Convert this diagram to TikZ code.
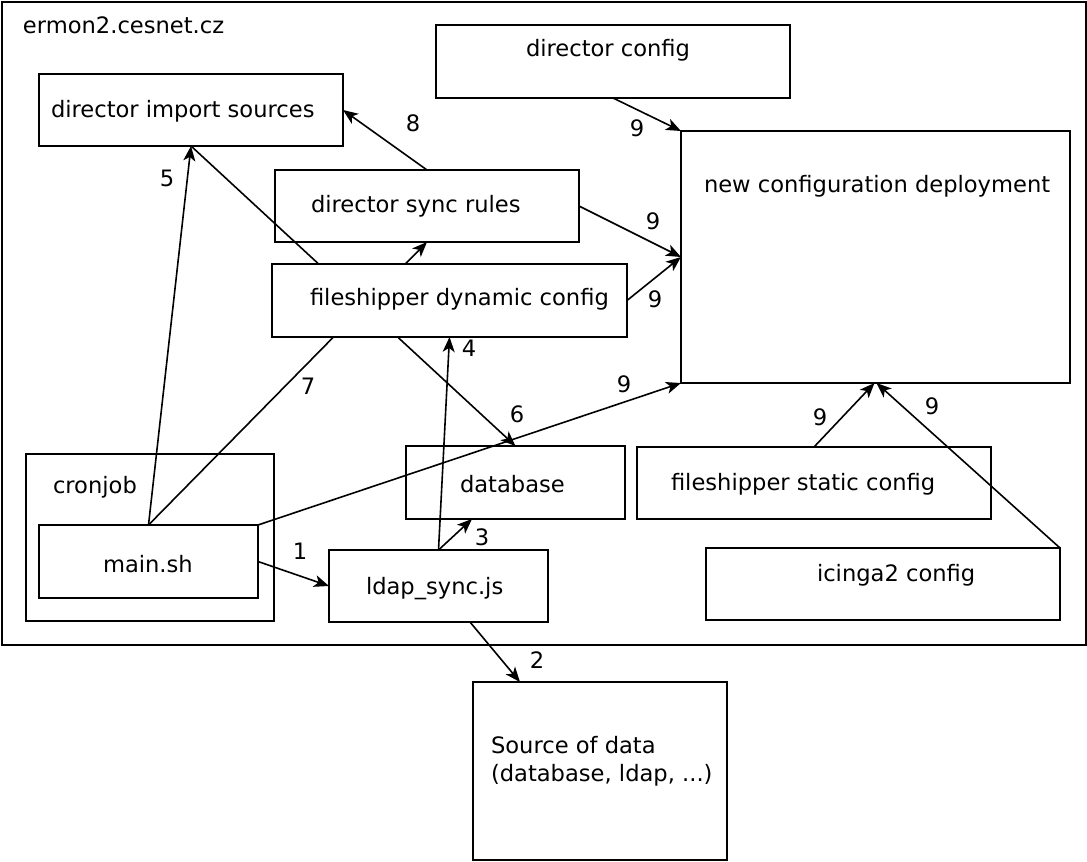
\documentclass[tikz,border=0pt]{standalone}
\usepackage{fontspec}
\setmainfont{DejaVu Sans}
\usetikzlibrary{arrows.meta,calc}
\begin{document}
\begin{tikzpicture}[x=1pt,y=-1pt,
  every node/.style={font=\fontsize{22.6}{28}\selectfont},
  box/.style={draw,line width=2.4pt,inner sep=0pt,outer sep=0pt},
  txt/.style={anchor=base west,inner sep=0pt,outer sep=0pt},
  num/.style={anchor=center,inner sep=0pt},
  arr/.style={line width=1.6pt,-{Stealth[length=15pt,width=12pt,inset=4pt]}}]
\useasboundingbox (0,0) rectangle (1087,862);
% boxes that do not cover lines
\node[box,minimum width=1084pt,minimum height=643pt] (outer) at (544,323.5) {};
\node[box,minimum width=354pt,minimum height=73pt] (dcfg) at (613,61.5) {};
\node[box,minimum width=304pt,minimum height=72pt] (imp) at (191,110) {};
\node[box,minimum width=389pt,minimum height=252pt] (ncd) at (875.5,257) {};
\node[box,minimum width=304pt,minimum height=72pt] (sync) at (427,206) {};
\node[box,minimum width=248pt,minimum height=167pt] (cron) at (150,537.5) {};
\node[box,minimum width=219pt,minimum height=73pt] (main) at (148.5,561.5) {};
\node[box,minimum width=219pt,minimum height=73pt] (db) at (515.5,482.5) {};
\node[box,minimum width=354pt,minimum height=72pt] (fst) at (814,483) {};
\node[box,minimum width=219pt,minimum height=72pt] (ldap) at (438.5,586) {};
\node[box,minimum width=354pt,minimum height=72pt] (ic) at (883,584) {};
\node[box,minimum width=254pt,minimum height=178pt] (src) at (600,771) {};
% lines passing behind the fileshipper dynamic config box
\draw[arr] (imp.south) -- (db.north);
\draw[arr] (main.north) -- (sync.south);
% opaque box
\node[box,fill=white,minimum width=355pt,minimum height=73pt] (fdyn) at (449.5,300.5) {};
% other connectors
\draw[arr] (main.north) -- (imp.south);
\draw[arr] (sync.north) -- (imp.east);
\draw[arr] (main.east) -- (ldap.west);
\draw[arr] ([xshift=-78pt]ldap.south east) -- ([xshift=47pt]src.north west);
\draw[arr] (ldap.north) -- ([xshift=66pt]db.south west);
\draw[arr] (ldap.north) -- (fdyn.south);
\draw[arr] (dcfg.south) -- (ncd.north west);
\draw[arr] (sync.east) -- (ncd.west);
\draw[arr] (fdyn.east) -- (ncd.west);
\draw[arr] (main.north east) -- (ncd.south west);
\draw[arr] (fst.north) -- ([xshift=-1pt]ncd.south);
\draw[arr] (ic.north east) -- ([xshift=1pt]ncd.south);
% texts
\node[txt] (tout) at (23,33) {ermon2.cesnet.cz};
\node[txt] (tdcfg) at (526,56) {director config};
\node[txt] (timp) at (51,117) {director import sources};
\node[txt] (tncd) at (704,192) {new configuration deployment};
\node[txt] (tsync) at (311,212) {director sync rules};
\node[txt] (tfdyn) at (310,305) {fileshipper dynamic config};
\node[txt] (tcron) at (53,493) {cronjob};
\node[txt] (tmain) at (103,572) {main.sh};
\node[txt] (tdb) at (460,492) {database};
\node[txt] (tfst) at (671,490) {fileshipper static config};
\node[txt] (tldap) at (366,594) {ldap\_sync.js};
\node[txt] (tic) at (817,581) {icinga2 config};
\node[txt] (tsrc1) at (491,753) {Source of data};
\node[txt] (tsrc2) at (491,781) {(database, ldap, ...)};
% numbers
\node[num] (n5) at (167,178) {5};
\node[num] (n8) at (413,123) {8};
\node[num] (n9a) at (637,128) {9};
\node[num] (n9b) at (653,221) {9};
\node[num] (n9c) at (655,299) {9};
\node[num] (n7) at (308,386) {7};
\node[num] (n4) at (469,348) {4};
\node[num] (n6) at (517,414) {6};
\node[num] (n9d) at (624,384) {9};
\node[num] (n9e) at (820,417) {9};
\node[num] (n9f) at (932,406) {9};
\node[num] (n1) at (300,551) {1};
\node[num] (n3) at (482,537) {3};
\node[num] (n2) at (537,660) {2};
\end{tikzpicture}
\end{document}
